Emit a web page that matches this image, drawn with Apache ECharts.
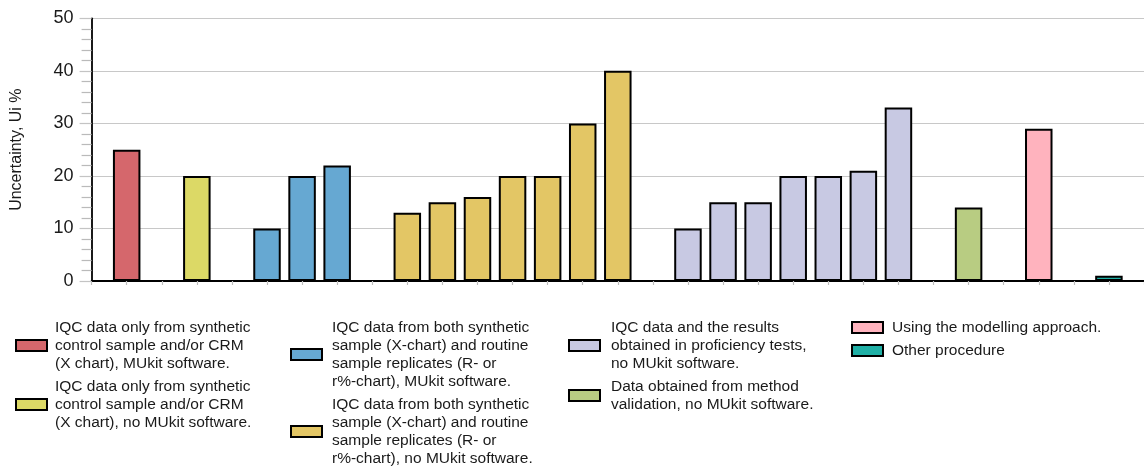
<!DOCTYPE html>
<html>
<head>
<meta charset="utf-8">
<script src="https://cdn.jsdelivr.net/npm/echarts@6/dist/echarts.min.js"></script>
<style>
  html, body { margin: 0; padding: 0; background: #fff; }
  #chart { width: 1144px; height: 470px; }
</style>
</head>
<body>
<div id="chart"></div>
<script>
// legend names of the procedures
var names = [
  'IQC data only from synthetic\ncontrol sample and/or CRM\n(X chart), MUkit software.',
  'IQC data only from synthetic\ncontrol sample and/or CRM\n(X chart), no MUkit software.',
  'IQC data from both synthetic\nsample (X-chart) and routine\nsample replicates (R- or\nr%-chart), MUkit software.',
  'IQC data from both synthetic\nsample (X-chart) and routine\nsample replicates (R- or\nr%-chart), no MUkit software.',
  'IQC data and the results\nobtained in proficiency tests,\nno MUkit software.',
  'Data obtained from method\nvalidation, no MUkit software.',
  'Using the modelling approach.',
  'Other procedure'
];
// slot of every bar along the x axis
var slots = [
  [1],
  [3],
  [5, 6, 7],
  [9, 10, 11, 12, 13, 14, 15],
  [17, 18, 19, 20, 21, 22, 23],
  [25],
  [27],
  [29]
];
// uncertainty Ui %
var values = [
  [25],
  [20],
  [10, 20, 22],
  [13, 15, 16, 20, 20, 30, 40],
  [10, 15, 15, 20, 20, 21, 33],
  [14],
  [29],
  [1]
];
var colors = ['#d5676c', '#dcd966', '#66a8d2', '#e3c665', '#c8c9e3', '#b8cc82', '#ffb3be', '#20b0a6'];

var font = 'Liberation Sans, Arial, sans-serif';

var series = [];
for (var i = 0; i < names.length; i++) {
  var d = [];
  for (var j = 0; j < slots[i].length; j++) {
    d.push([slots[i][j], values[i][j]]);
  }
  series.push({
    name: names[i],
    type: 'bar',
    data: d,
    barWidth: 27.5,
    barGap: '-100%',
    itemStyle: { color: colors[i], borderColor: '#000', borderWidth: 2 }
  });
}

//图例, 每列两项
function makeLegend(left, list, textGap) {
  return {
    orient: 'vertical',
    left: left,
    top: 318.5,
    padding: 0,
    itemGap: 5,
    itemWidth: 31,
    itemHeight: 11,
    icon: 'rect',
    selectedMode: false,
    data: list,
    itemStyle: { borderColor: '#000', borderWidth: 2 },
    textStyle: { fontFamily: font, fontSize: 15.5, lineHeight: 18, color: '#1a1a1a', padding: [0, 0, 0, textGap] }
  };
}

var option = {
  animation: false,
  backgroundColor: '#fff',
  grid: { left: 91.6, right: 0, top: 18.3, bottom: 189 },
  legend: [
    makeLegend(15, [names[0], names[1]], 3),
    makeLegend(290, [names[2], names[3]], 5),
    makeLegend(568, [names[4], names[5]], 6),
    makeLegend(851, [names[6], names[7]], 4)
  ],
  xAxis: {
    type: 'value',
    min: 0,
    max: 30,
    interval: 1,
    axisLine: { lineStyle: { color: '#000', width: 1.8 } },
    axisTick: { show: true, length: 4, lineStyle: { color: '#bdbdbd', width: 1.2 } },
    axisLabel: { show: false },
    splitLine: { show: false }
  },
  yAxis: {
    type: 'value',
    min: 0,
    max: 50,
    interval: 10,
    name: 'Uncertainty, Ui %',
    nameLocation: 'middle',
    nameGap: 67,
    nameTextStyle: { fontFamily: font, fontSize: 16, color: '#1a1a1a' },
    axisLine: { show: true, lineStyle: { color: '#000', width: 1.8 } },
    axisTick: { show: true, length: 12, lineStyle: { color: '#c4c4c4', width: 1.2 } },
    minorTick: { show: true, splitNumber: 5, length: 10, lineStyle: { color: '#bababa', width: 1.2 } },
    axisLabel: { fontFamily: font, fontSize: 18, color: '#1a1a1a', margin: 18 },
    splitLine: { lineStyle: { color: '#c8c8c8', width: 1.2 } }
  },
  series: series
};

var myChart = echarts.init(document.getElementById('chart'));
myChart.setOption(option);
</script>
</body>
</html>
